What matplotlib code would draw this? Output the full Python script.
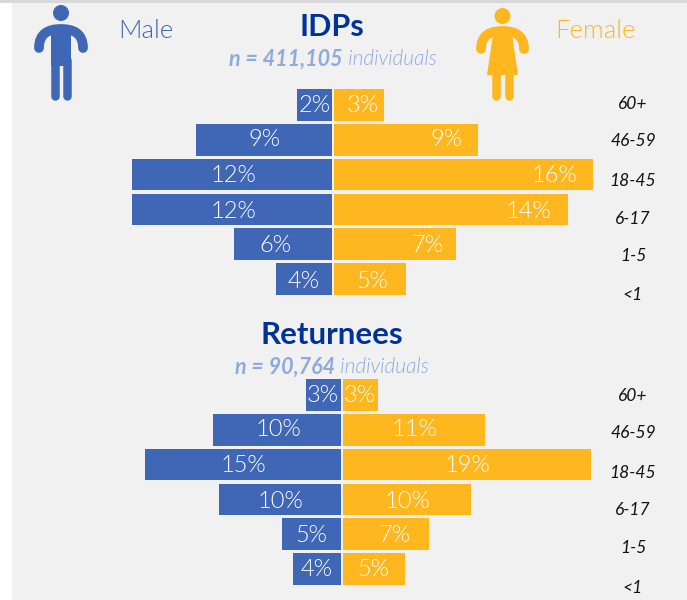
import matplotlib
matplotlib.use("Agg")
import matplotlib.pyplot as plt
from matplotlib import font_manager as fm
from matplotlib.patches import Circle, Rectangle, Polygon, PathPatch
from matplotlib.path import Path

# data, top bar first
age_groups = ["60+", "46-59", "18-45", "6-17", "1-5", "<1"]
idp_male = [2.2, 8.5, 12.5, 12.5, 6.1, 3.5]
idp_female = [3.1, 9.0, 16.2, 14.6, 7.6, 4.5]
idp_male_labels = ["2%", "9%", "12%", "12%", "6%", "4%"]
idp_female_labels = ["3%", "9%", "16%", "14%", "7%", "5%"]
ret_male = [2.6, 9.7, 14.9, 9.3, 4.5, 3.6]
ret_female = [2.7, 10.9, 19.0, 9.8, 6.6, 4.8]
ret_male_labels = ["3%", "10%", "15%", "10%", "5%", "4%"]
ret_female_labels = ["3%", "11%", "19%", "10%", "7%", "5%"]

W, H = 687, 600
BLUE = "#4067b6"
YELLOW = "#feb71e"
LIGHT_BLUE = "#8faadc"
FONT = "Lato"


def lato_file(word):
    # matplotlib's weight matching lands on Hairline, so pick the file by name
    for f in fm.fontManager.ttflist:
        base = f.fname.split("/")[-1]
        if base.startswith("Lato") and base[:-4].endswith(word):
            return fm.FontProperties(fname=f.fname)
    return fm.FontProperties(family=FONT)


light = lato_file("-Light")
light_italic = lato_file("-LightItalic")

# where the labels sit, in pixels
idp_male_x = [315, 264, 233, 233, 275, 304]
idp_female_x = [363, 446, 554, 528, 428, 372]
ret_male_x = [323, 278, 243, 280, 311, 317]
ret_female_x = [360, 414, 467, 407, 395, 373]
idp_y = [105, 140, 176, 211, 246, 281]
ret_y = [395, 430, 466, 501, 536, 569]
idp_age_y = [104, 141, 181, 219, 256, 295]
ret_age_y = [396, 433, 473, 510, 548, 588]


def draw_pyramid(fig, male, female, center, scale, top, bottom):
    # one axes per pyramid, x in percent, y is the row number
    left_px, right_px = 100, 620
    ax = fig.add_axes([left_px / W, 1 - bottom / H, (right_px - left_px) / W, (bottom - top) / H])
    ax.set_xlim((left_px - center) / scale, (right_px - center) / scale)
    ax.set_ylim(5.5, -0.5)
    rows = range(len(male))
    ax.barh(rows, [-m for m in male], height=0.91, left=-1 / scale, color=BLUE)
    ax.barh(rows, female, height=0.91, left=1 / scale, color=YELLOW)
    ax.axis("off")
    ax.patch.set_alpha(0)
    return ax


fig = plt.figure(figsize=(W / 100, H / 100), dpi=100, facecolor="white")

# overlay in pixels for background, icons and text
bg = fig.add_axes([0, 0, 1, 1])
bg.set_xlim(0, W)
bg.set_ylim(H, 0)
bg.axis("off")
bg.add_patch(Rectangle((0, 0), W, 3, color="#d9d9d9", lw=0))
bg.add_patch(Rectangle((12, 3), W - 12, H, color="#f1f1f1", lw=0))

draw_pyramid(fig, idp_male, idp_female, 333, 16.0, 87.5, 296.5)
draw_pyramid(fig, ret_male, ret_female, 341.5, 13.1, 377.5, 586.5)

ov = fig.add_axes([0, 0, 1, 1])
ov.set_xlim(0, W)
ov.set_ylim(H, 0)
ov.axis("off")
ov.patch.set_alpha(0)


def arms(cx, top_y, half, end_y, color):
    verts = [(cx - half, end_y), (cx - half, top_y + 4), (cx - 12, top_y), (cx, top_y),
             (cx + 12, top_y), (cx + half, top_y + 4), (cx + half, end_y)]
    codes = [Path.MOVETO, Path.CURVE4, Path.CURVE4, Path.CURVE4, Path.CURVE4, Path.CURVE4, Path.CURVE4]
    ov.add_patch(PathPatch(Path(verts, codes), fill=False, ec=color, lw=7, capstyle="round"))


def leg(x0, x1, y0, y1, color):
    ov.plot([(x0 + x1) / 2] * 2, [y0, y1 - (x1 - x0) / 2], color=color,
            lw=(x1 - x0) * 0.72, solid_capstyle="round")


# man
ov.add_patch(Circle((61, 13), 8, color=BLUE, lw=0))
arms(61, 29, 22, 48, BLUE)
ov.add_patch(Rectangle((51, 28), 20, 38, color=BLUE, lw=0))
leg(51, 59.5, 60, 100, BLUE)
leg(62.5, 71, 60, 100, BLUE)

# woman
ov.add_patch(Circle((502.5, 16), 8, color=YELLOW, lw=0))
arms(502.5, 31, 21.5, 49, YELLOW)
ov.add_patch(Polygon([(494, 28), (511, 28), (518, 75), (487, 75)], color=YELLOW, lw=0))
leg(492, 500.5, 70, 100, YELLOW)
leg(504.5, 513, 70, 100, YELLOW)

# headings
ov.text(146, 31, "Male", color=BLUE, fontsize=18.5, fontproperties=light, ha="center", va="center")
ov.text(595, 31, "Female", color=YELLOW, fontsize=18.5, fontproperties=light, ha="center", va="center")
ov.text(332, 27, "IDPs", color="#003399", fontsize=22, family=FONT, weight="bold", ha="center", va="center")
ov.text(332, 335, "Returnees", color="#003399", fontsize=22.5, family=FONT, weight="bold", ha="center", va="center")

for x, y, bold, rest in [(229, 59, "n = 411,105", " individuals"), (235, 367, "n = 90,764", " individuals")]:
    t = ov.text(x, y, bold, color=LIGHT_BLUE, fontsize=15.5, family=FONT, weight="bold", style="italic", va="center")
    box = t.get_window_extent(fig.canvas.get_renderer())
    ov.text(box.x1, y, rest, color=LIGHT_BLUE, fontsize=15, fontproperties=light_italic, va="center")

# bar labels and age groups
for ys, mx, fx, ml, fl, ay in [
    (idp_y, idp_male_x, idp_female_x, idp_male_labels, idp_female_labels, idp_age_y),
    (ret_y, ret_male_x, ret_female_x, ret_male_labels, ret_female_labels, ret_age_y),
]:
    for i, age in enumerate(age_groups):
        ov.text(mx[i], ys[i], ml[i], color="white", fontsize=17, fontproperties=light, ha="center", va="center")
        ov.text(fx[i], ys[i], fl[i], color="white", fontsize=17, fontproperties=light, ha="center", va="center")
        ov.text(633, ay[i], age, color="#111111", fontsize=12.5, family=FONT, style="italic", ha="center", va="center")

fig.savefig("out.png", dpi=100)
